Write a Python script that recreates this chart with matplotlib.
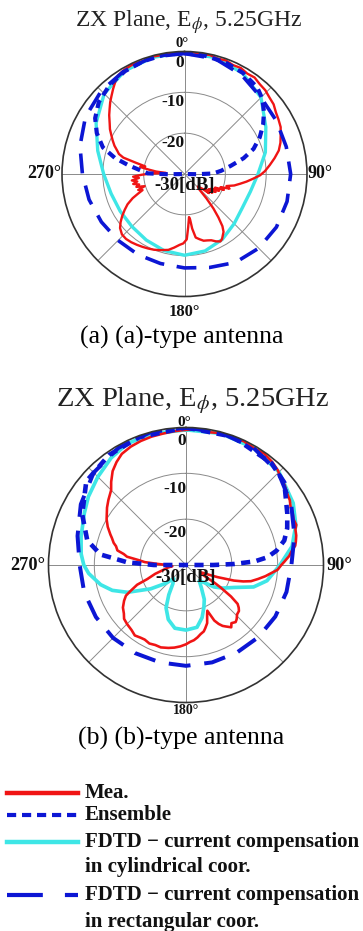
import numpy as np
import matplotlib
matplotlib.use("Agg")
import matplotlib.pyplot as plt
from matplotlib.lines import Line2D

plt.rcParams["font.family"] = ["Liberation Serif", "DejaVu Serif"]
plt.rcParams["mathtext.fontset"] = "stix"

RED = "#f01414"
BLUE = "#0c16d4"
CYAN = "#3ee6e6"

# ---------------- (a)-type antenna: (angle deg, dB) ----------------
red_a_deg = [0, 4, 8, 12, 16, 20, 24, 28, 32, 36, 40, 44, 48, 52, 56, 60, 64, 68, 72, 76,
             80, 84, 88, 91, 94, 97, 100, 103, 106, 108, 110, 112, 114, 116, 118, 120, 122,
             124, 126, 128, 130, 133, 136, 138, 140, 142, 144, 146, 148, 150, 152, 155, 158,
             161, 164, 167, 170, 172, 173, 174, 176, 178, 181, 184, 188, 192, 198, 202, 206,
             210, 214, 218, 222, 226, 230, 233, 236, 239, 242, 245, 247, 249, 251, 253, 255,
             257, 259, 261, 263, 265, 267, 269, 271, 273, 275, 277, 279, 281, 283, 285, 287,
             289, 292, 295, 298, 301, 304, 308, 311, 314, 317, 320, 323, 326, 330, 335, 340,
             345, 350, 355, 360]
red_a_db = [-0.3, -0.1, -0.4, -0.2, -0.6, -0.4, -0.8, -0.6, -1.0, -0.8, -1.3, -1.5, -2.0,
            -2.3, -3.0, -3.4, -3.8, -4.6, -5.3, -6.2, -7.6, -9.0, -10.3, -11.5, -13.2, -14.7,
            -16.2, -17.5, -19.3, -18.4, -20.6, -19.6, -21.8, -20.6, -22.5, -21.2, -23.0, -21.8,
            -23.8, -22.4, -24.5, -25.5, -25.0, -22.0, -19.0, -16.5, -14.2, -12.9, -12.3, -11.6,
            -11.3, -11.8, -12.5, -12.8, -13.0, -13.6, -14.2, -16.5, -18.8, -19.4, -17.0, -14.0,
            -13.0, -12.6, -11.8, -11.0, -10.4, -10.0, -9.7, -9.4, -9.1, -8.8, -8.6, -8.7, -9.4,
            -10.4, -11.6, -12.9, -14.2, -16.0, -17.6, -19.0, -18.0, -19.8, -17.8, -18.6, -17.2,
            -18.3, -17.0, -18.8, -17.4, -19.5, -22.0, -25.5, -23.0, -21.2, -19.0, -20.2, -17.8,
            -14.5, -13.2, -12.6, -11.5, -10.6, -9.7, -8.7, -7.9, -6.6, -5.7, -4.7, -3.8, -2.8,
            -1.8, -0.9, -0.5, -0.3, -0.5, -0.2, -0.4, -0.1, -0.3]

ens_a_deg = [0, 10, 20, 30, 40, 46, 52, 58, 64, 70, 75, 80, 85, 89, 91, 93, 180, 267, 269,
             271, 275, 279, 283, 288, 295, 302, 310, 320, 330, 340, 350, 360]
ens_a_db = [-0.4, -0.6, -0.9, -1.4, -2.3, -3.5, -5.3, -7.3, -9.5, -12.0, -15.0, -18.5, -21.0,
            -23.0, -27.0, -30.0, -30.0, -30.0, -26.0, -21.0, -19.0, -16.0, -12.5, -9.0, -6.3,
            -4.2, -2.6, -1.5, -0.9, -0.6, -0.4, -0.4]

cyl_a_deg = [0, 15, 30, 45, 60, 75, 90, 105, 120, 135, 150, 165, 180, 195, 210, 225, 240,
             255, 270, 285, 300, 315, 330, 345, 360]
cyl_a_db = [-0.3, -0.5, -1.5, -3.5, -7.0, -9.5, -12.0, -13.3, -13.6, -12.8, -11.5, -10.5,
            -10.1, -10.6, -11.3, -11.8, -11.8, -11.4, -10.2, -8.0, -5.0, -2.2, -0.8, -0.4, -0.3]

rect_a_deg = [0, 15, 30, 45, 60, 75, 90, 105, 120, 135, 150, 165, 180, 195, 210, 225, 240,
              255, 270, 285, 300, 315, 330, 345, 360]
rect_a_db = [-0.5, -0.8, -2.0, -3.5, -4.0, -4.2, -4.0, -4.0, -4.0, -4.3, -5.0, -6.3, -7.0,
             -7.3, -7.2, -7.0, -6.5, -5.8, -5.0, -3.5, -2.0, -1.2, -0.7, -0.3, -0.5]

# ---------------- (b)-type antenna ----------------
red_b_deg = [0, 5, 10, 15, 20, 25, 30, 35, 40, 44, 47, 51, 55, 58, 61, 64, 67, 70, 72, 75,
             78, 80, 82, 85, 88, 90, 93, 96, 98, 101, 104, 106, 108, 111, 113, 115, 118, 120,
             122, 123, 125, 127, 129, 131, 134, 137, 139, 142, 144, 147, 149, 151, 153, 155,
             157, 160, 163, 165, 168, 171, 174, 177, 180, 184, 188, 192, 197, 201, 205, 209,
             212, 216, 220, 225, 229, 232, 236, 240, 243, 245, 248, 250, 254, 258, 262, 265,
             268, 270, 272, 274, 276, 278, 280, 282, 285, 287, 290, 292, 296, 300, 303, 306,
             310, 315, 318, 322, 326, 330, 335, 340, 345, 350, 355, 360]
red_b_db = [-0.5, -0.3, -0.6, -0.2, -0.4, -0.2, -0.5, -0.3, -0.7, -1.2, -1.8, -2.3, -3.0,
            -3.3, -3.9, -4.1, -4.5, -4.4, -4.9, -5.1, -5.5, -5.8, -6.6, -7.4, -8.5, -9.2,
            -10.0, -11.6, -12.5, -14.0, -15.4, -17.0, -19.0, -22.6, -24.5, -26.0, -26.5, -26.0,
            -22.5, -21.0, -18.0, -15.9, -15.2, -14.7, -14.5, -13.8, -13.5, -13.9, -13.2, -14.0,
            -14.5, -15.3, -16.4, -19.0, -18.2, -16.5, -15.6, -15.0, -14.6, -14.0, -13.5, -13.2,
            -12.7, -12.2, -11.8, -11.5, -11.2, -11.3, -11.1, -11.4, -11.3, -11.0, -11.5, -11.8,
            -12.1, -12.8, -13.4, -14.4, -15.3, -16.7, -18.5, -21.0, -23.0, -25.0, -26.0, -27.0,
            -26.5, -26.0, -24.0, -21.0, -19.5, -17.0, -16.2, -14.7, -14.2, -13.5, -12.8, -12.2,
            -11.0, -10.0, -9.4, -8.7, -7.9, -6.9, -5.6, -4.0, -2.9, -2.0, -1.5, -1.2, -1.0, -0.9,
            -0.7, -0.5]

ens_b_deg = [0, 20, 40, 50, 63, 70, 76, 81, 84.6, 87, 88.8, 90, 92, 180, 268, 270, 272.6,
             277, 284, 296, 310, 325, 340, 360]
ens_b_db = [0.0, -0.2, -1.0, -2.0, -5.2, -6.5, -7.9, -10.0, -12.2, -15.0, -19.5, -24.0, -30.0,
            -30.0, -30.0, -23.0, -17.2, -11.2, -7.8, -4.8, -1.6, -0.7, -0.3, 0.0]

cyl_b_deg = [0, 15, 30, 45, 60, 70, 80, 90, 95, 101, 108, 115, 122, 128, 134, 140, 146, 152,
             157, 163, 170, 180, 190, 198, 205, 210, 215, 222, 228, 236, 245, 251, 257, 265,
             270, 276, 285, 297, 305, 315, 325, 334, 345, 360]
cyl_b_db = [-0.5, -0.3, -0.5, -1.3, -3.0, -4.5, -6.5, -9.5, -10.8, -12.0, -14.5, -18.4, -20.5,
            -22.2, -24.5, -25.5, -24.0, -21.5, -20.0, -18.0, -16.2, -15.8, -16.0, -17.5, -19.7,
            -22.5, -25.0, -26.0, -24.0, -20.7, -15.9, -13.0, -10.9, -8.7, -7.7, -7.0, -6.3,
            -5.1, -4.0, -2.8, -1.5, -0.6, -0.4, -0.5]

rect_b_deg = [0, 15, 30, 45, 60, 75, 90, 105, 120, 135, 150, 165, 180, 195, 210, 225, 240,
              255, 270, 285, 300, 315, 330, 345, 360]
rect_b_db = [0.0, -0.2, -0.5, -1.5, -3.5, -5.5, -7.0, -7.3, -7.5, -7.7, -7.9, -8.0, -8.0,
             -8.0, -7.8, -7.5, -7.3, -7.0, -6.8, -5.5, -3.5, -1.5, -0.5, 0.0, 0.0]

legend_labels = ["Mea.", "Ensemble", "FDTD \u2212 current compensation",
                 "in cylindrical coor.", "FDTD \u2212 current compensation",
                 "in rectangular coor."]

W, H = 363, 931


def polar_panel(fig, cx, cy, R, sizes, gaps, ring_off, curves):
    ax = fig.add_axes([(cx - R) / W, 1 - (cy + R) / H, 2 * R / W, 2 * R / H],
                      projection="polar")
    ax.set_theta_zero_location("N")
    ax.set_theta_direction(-1)
    ax.set_ylim(-30, 0)
    ax.set_yticks([-20, -10])
    ax.set_yticklabels([])
    ax.set_xticks(np.deg2rad(np.arange(0, 360, 45)))
    ax.set_xticklabels([])
    ax.grid(True, color="#8a8a8a", lw=0.7)
    ax.spines["polar"].set_color("#333333")
    ax.spines["polar"].set_linewidth(1.2)
    ax.tick_params(length=0)

    for deg, db, style in curves:
        ax.plot(np.deg2rad(deg), db, **style)

    s0, s90, s180, sring = sizes
    g0, g90, g180 = [g / (2 * R) for g in gaps]
    kw = dict(fontweight="bold", transform=ax.transAxes, clip_on=False, color="#111111")
    ax.text(0.5 - 2 / (2 * R), 1 + g0, "0\u00b0", fontsize=s0, ha="center", va="center",
            **kw)
    ax.text(0.5, -g180, "180\u00b0", fontsize=s180, ha="center", va="center", **kw)
    ax.text(-g90, 0.5, "270\u00b0", fontsize=s90, ha="right", va="center", **kw)
    ax.text(1 + g90, 0.5, "90\u00b0", fontsize=s90, ha="left", va="center", **kw)

    rl = dict(fontweight="bold", fontsize=sring, ha="right", va="center", color="#111111")
    for lab, r in zip(["0", "-10", "-20"], ring_off):
        ax.text(0, r, lab, **rl)
    ax.text(np.pi, -27.3, "-30[dB]", fontweight="bold", fontsize=sring + 1,
            ha="center", va="center", color="#111111")
    return ax


def styles(scale):
    return dict(
        cyl=dict(color=CYAN, lw=2.4 * scale),
        red=dict(color=RED, lw=1.7 * scale),
        ens=dict(color=BLUE, lw=3.0 * scale, dashes=(2.0, 1.4)),
        rect=dict(color=BLUE, lw=2.6 * scale, dashes=(5.5, 3.5)),
    )


fig = plt.figure(figsize=(W / 100, H / 100), dpi=100)

s = styles(1.0)
polar_panel(fig, 184.5, 174, 122.5, (10.5, 13, 12, 12.5), (8.0, 1, 15.5),
            (-2.8, -12.4, -22.4), [
                (cyl_a_deg, cyl_a_db, s["cyl"]),
                (red_a_deg, red_a_db, s["red"]),
                (ens_a_deg, ens_a_db, s["ens"]),
                (rect_a_deg, rect_a_db, s["rect"]),
            ])
fig.text(189 / W, 1 - 27 / H, r"ZX Plane, E$_{\phi}$, 5.25GHz", fontsize=17,
         ha="center", va="baseline", color="#222222")
fig.text(182 / W, 1 - 337 / H, "(a) (a)-type antenna", fontsize=18.5, ha="center",
         va="center")

s = styles(1.1)
polar_panel(fig, 186, 565, 137.5, (11, 13.2, 10, 12.5), (5, 3, 8),
            (-3.0, -13.5, -23.0), [
                (cyl_b_deg, cyl_b_db, s["cyl"]),
                (red_b_deg, red_b_db, s["red"]),
                (ens_b_deg, ens_b_db, s["ens"]),
                (rect_b_deg, rect_b_db, s["rect"]),
            ])
fig.text(193 / W, 1 - 406 / H, r"ZX Plane, E$_{\phi}$, 5.25GHz", fontsize=20.5,
         ha="center", va="baseline", color="#222222")
fig.text(181 / W, 1 - 738 / H, "(b) (b)-type antenna", fontsize=18.5, ha="center",
         va="center")

# legend drawn by hand so the key sits on the first text line
leg = fig.add_axes([0, 0, 1, 1])
leg.set_xlim(0, W)
leg.set_ylim(H, 0)
leg.axis("off")
rows = [793, 815, 842, 867, 895, 922]
keys = [dict(color=RED, lw=3.2), dict(color=BLUE, lw=3.0, dashes=(2.2, 1.4)),
        dict(color=CYAN, lw=3.2), None, dict(color=BLUE, lw=3.0, dashes=(8.6, 5.3)), None]
for y, lab, k in zip(rows, legend_labels, keys):
    if k is not None:
        leg.add_line(Line2D([7, 78], [y, y], **k))
    leg.text(85, y, lab, fontsize=15, fontweight="bold", ha="left", va="center",
             color="#111111")

fig.savefig("out.png", dpi=100, facecolor="white")
